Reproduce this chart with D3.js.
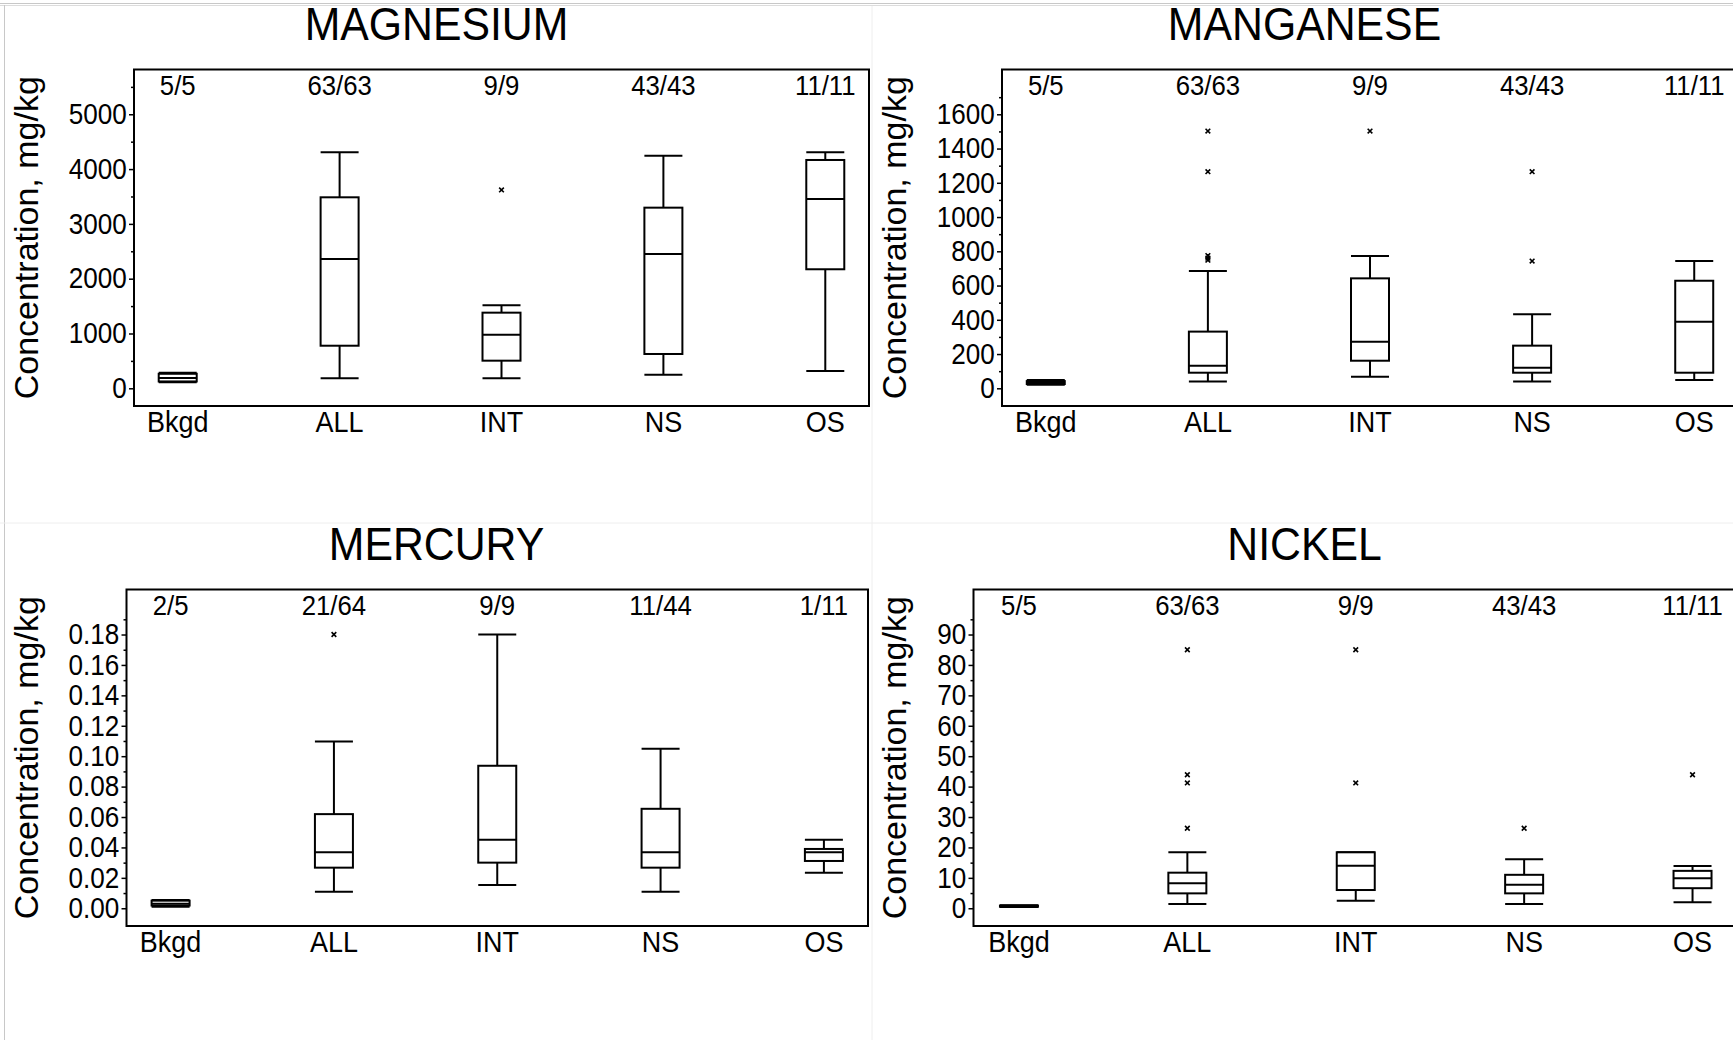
<!DOCTYPE html>
<html>
<head>
<meta charset="utf-8">
<script src="https://cdn.jsdelivr.net/npm/d3@7"></script>
<style>
  body { margin: 0; background: #fff; }
  svg { display: block; font-family: "Liberation Sans", Arial, sans-serif; }
</style>
</head>
<body>
<svg width="1733" height="1040"></svg>
<script>
// Categories shared by all four panels
const categories = ["Bkgd", "ALL", "INT", "NS", "OS"];

// MAGNESIUM
const magnesiumCounts = ["5/5", "63/63", "9/9", "43/43", "11/11"];
const magnesiumLow = [110, 182, 182, 248, 316];
const magnesiumQ1 = [125, 777, 504, 626, 2172];
const magnesiumMedian = [190, 2360, 978, 2451, 3454];
const magnesiumQ3 = [265, 3485, 1380, 3296, 4166];
const magnesiumHigh = [285, 4307, 1515, 4245, 4307];
const magnesiumOutliers = [[], [], [3619], [], []];
const magnesiumTicks = [0, 1000, 2000, 3000, 4000, 5000];
const magnesiumMinor = [500, 1500, 2500, 3500, 4500, 5500];

// MANGANESE
const manganeseCounts = ["5/5", "63/63", "9/9", "43/43", "11/11"];
const manganeseLow = [20, 39, 68, 39, 48];
const manganeseQ1 = [25, 91, 161, 91, 91];
const manganeseMedian = [33, 132, 272, 120, 389];
const manganeseQ3 = [42, 331, 642, 249, 628];
const manganeseHigh = [48, 685, 773, 432, 743];
const manganeseOutliers = [[], [1502, 1265, 775, 760, 748], [1502], [1265, 743], []];
const manganeseTicks = [0, 200, 400, 600, 800, 1000, 1200, 1400, 1600];
const manganeseMinor = [100, 300, 500, 700, 900, 1100, 1300, 1500, 1700];

// MERCURY
const mercuryCounts = ["2/5", "21/64", "9/9", "11/44", "1/11"];
const mercuryLow = [0.001, 0.0109, 0.0153, 0.0109, 0.0234];
const mercuryQ1 = [0.0018, 0.0267, 0.030, 0.0267, 0.0311];
const mercuryMedian = [0.003, 0.0369, 0.045, 0.0369, 0.0369];
const mercuryQ3 = [0.005, 0.0619, 0.0937, 0.0654, 0.039];
const mercuryHigh = [0.0055, 0.1097, 0.18, 0.1049, 0.045];
const mercuryOutliers = [[], [0.18], [], [], []];
const mercuryTicks = [0, 0.02, 0.04, 0.06, 0.08, 0.10, 0.12, 0.14, 0.16, 0.18];
const mercuryMinor = [0.01, 0.03, 0.05, 0.07, 0.09, 0.11, 0.13, 0.15, 0.17, 0.19];

// NICKEL
const nickelCounts = ["5/5", "63/63", "9/9", "43/43", "11/11"];
const nickelLow = [0.4, 1.4, 2.5, 1.4, 2.0];
const nickelQ1 = [0.5, 4.9, 6.0, 4.9, 6.6];
const nickelMedian = [0.7, 8.2, 14.0, 7.7, 9.9];
const nickelQ3 = [0.9, 11.7, 18.4, 11.0, 12.3];
const nickelHigh = [1.0, 18.4, 18.4, 16.1, 13.9];
const nickelOutliers = [[], [85, 43.9, 41.2, 26.3], [85, 41.2], [26.3], [43.9]];
const nickelTicks = [0, 10, 20, 30, 40, 50, 60, 70, 80, 90];
const nickelMinor = [5, 15, 25, 35, 45, 55, 65, 75, 85, 95];

const svg = d3.select("svg");

// Page chrome: thin grey borders between the four panel images
svg.append("line").attr("x1", 0).attr("x2", 1733).attr("y1", 3.5).attr("y2", 3.5)
    .attr("stroke", "#c8c8c8").attr("stroke-width", 1);
svg.append("line").attr("x1", 0).attr("x2", 1733).attr("y1", 5.5).attr("y2", 5.5)
    .attr("stroke", "#dcdcdc").attr("stroke-width", 1);
svg.append("line").attr("x1", 4.5).attr("x2", 4.5).attr("y1", 5).attr("y2", 1040)
    .attr("stroke", "#c8c8c8").attr("stroke-width", 1);
svg.append("line").attr("x1", 872).attr("x2", 872).attr("y1", 6).attr("y2", 1040)
    .attr("stroke", "#eeeeee").attr("stroke-width", 1);
svg.append("line").attr("x1", 0).attr("x2", 1733).attr("y1", 523).attr("y2", 523)
    .attr("stroke", "#eeeeee").attr("stroke-width", 1);

// Panels built from the arrays above
const panels = [
    {title: "MAGNESIUM", counts: magnesiumCounts, low: magnesiumLow, q1: magnesiumQ1, med: magnesiumMedian,
     q3: magnesiumQ3, high: magnesiumHigh, out: magnesiumOutliers, ticks: magnesiumTicks, minor: magnesiumMinor,
     domain: [-323, 5817], fmt: d3.format("d"), ox: 0, oy: 0, left: 134, right: 869},
    {title: "MANGANESE", counts: manganeseCounts, low: manganeseLow, q1: manganeseQ1, med: manganeseMedian,
     q3: manganeseQ3, high: manganeseHigh, out: manganeseOutliers, ticks: manganeseTicks, minor: manganeseMinor,
     domain: [-103.4, 1861.6], fmt: d3.format("d"), ox: 868, oy: 0, left: 1002, right: 1738},
    {title: "MERCURY", counts: mercuryCounts, low: mercuryLow, q1: mercuryQ1, med: mercuryMedian,
     q3: mercuryQ3, high: mercuryHigh, out: mercuryOutliers, ticks: mercuryTicks, minor: mercuryMinor,
     domain: [-0.01166, 0.2096], fmt: d3.format(".2f"), ox: 0, oy: 520, left: 126.5, right: 868},
    {title: "NICKEL", counts: nickelCounts, low: nickelLow, q1: nickelQ1, med: nickelMedian,
     q3: nickelQ3, high: nickelHigh, out: nickelOutliers, ticks: nickelTicks, minor: nickelMinor,
     domain: [-5.83, 104.8], fmt: d3.format("d"), ox: 868, oy: 520, left: 973.5, right: 1738}
];

const boxW = 38;

// Slightly condensed text, like the original export
function label(g, x, y, size, sx, txt) {
    return g.append("text")
        .attr("transform", `translate(${x},${y}) scale(${sx},1)`)
        .attr("text-anchor", "middle")
        .style("font-size", size + "px")
        .text(txt);
}

panels.forEach(p => {
    const top = p.oy + 69.5, bottom = p.oy + 406;
    const g = svg.append("g");

    const x = d3.scalePoint().domain(categories).range([p.left, p.right]).padding(0.27);
    const y = d3.scaleLinear().domain(p.domain).range([bottom, top]);

    // Title
    label(g, p.ox + 436.5, p.oy + 40, 46, 0.93, p.title);

    // Y-axis title
    g.append("text")
        .attr("transform", `translate(${p.ox + 38},${(top + bottom) / 2}) rotate(-90)`)
        .attr("text-anchor", "middle")
        .style("font-size", "34px")
        .text("Concentration, mg/kg");

    // Plot frame
    g.append("rect")
        .attr("x", p.left).attr("y", top)
        .attr("width", p.right - p.left).attr("height", bottom - top)
        .attr("fill", "none").attr("stroke", "#000").attr("stroke-width", 2);

    // Y axis with major and minor ticks
    const major = g.append("g").attr("transform", `translate(${p.left},0)`)
        .call(d3.axisLeft(y).tickValues(p.ticks).tickFormat(p.fmt).tickSize(5).tickPadding(3));
    major.select(".domain").remove();
    major.selectAll("line").attr("stroke-width", 1.5);
    major.selectAll("text")
        .style("font-size", "29px").attr("fill", "#000")
        .attr("transform", "scale(0.9,1)");

    const minor = g.append("g").attr("transform", `translate(${p.left},0)`)
        .call(d3.axisLeft(y).tickValues(p.minor.filter(v => y(v) > top + 2)).tickFormat("").tickSize(3));
    minor.select(".domain").remove();
    minor.selectAll("line").attr("stroke-width", 1.5);

    // Category labels and detection counts
    categories.forEach((c, i) => {
        label(g, x(c), p.oy + 432, 29, 0.93, c);
        label(g, x(c), p.oy + 95, 28, 0.92, p.counts[i]);
    });

    // Box plots
    categories.forEach((c, i) => {
        const cx = x(c);
        const bg = g.append("g").attr("stroke", "#000").attr("stroke-width", 2).attr("fill", "none");
        // whiskers
        bg.append("line").attr("x1", cx).attr("x2", cx).attr("y1", y(p.high[i])).attr("y2", y(p.q3[i]));
        bg.append("line").attr("x1", cx).attr("x2", cx).attr("y1", y(p.q1[i])).attr("y2", y(p.low[i]));
        bg.append("line").attr("x1", cx - boxW / 2).attr("x2", cx + boxW / 2)
            .attr("y1", y(p.high[i])).attr("y2", y(p.high[i]));
        bg.append("line").attr("x1", cx - boxW / 2).attr("x2", cx + boxW / 2)
            .attr("y1", y(p.low[i])).attr("y2", y(p.low[i]));
        // box
        bg.append("rect")
            .attr("x", cx - boxW / 2).attr("y", y(p.q3[i]))
            .attr("width", boxW).attr("height", Math.max(0.5, y(p.q1[i]) - y(p.q3[i])))
            .attr("fill", "#fff");
        // median
        bg.append("line").attr("x1", cx - boxW / 2).attr("x2", cx + boxW / 2)
            .attr("y1", y(p.med[i])).attr("y2", y(p.med[i]));
        // outliers
        g.selectAll(null).data(p.out[i]).join("path")
            .attr("transform", v => `translate(${cx},${y(v)})`)
            .attr("d", d3.symbol().type(d3.symbolTimes).size(16))
            .attr("fill", "#000").attr("stroke", "#000").attr("stroke-width", 1.6);
    });
});
</script>
</body>
</html>
